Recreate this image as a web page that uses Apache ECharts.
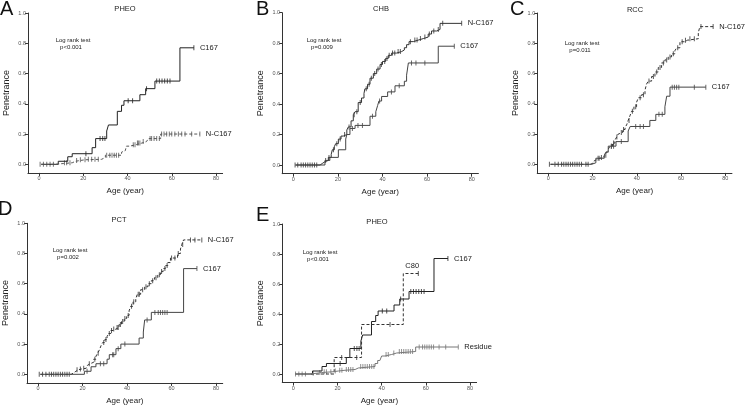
<!DOCTYPE html>
<html><head><meta charset="utf-8">
<script src="https://cdn.jsdelivr.net/npm/echarts@6/dist/echarts.min.js"></script>
<style>html,body{margin:0;padding:0;background:#fff}#c{width:745px;height:407px}</style>
</head><body><div id="c"></div><script>
// ---------- data ----------
const xTicks = [0, 20, 40, 60, 80];
const yTicks = [0, 0.2, 0.4, 0.6, 0.8, 1.0];
const panelLetters = ['A', 'B', 'C', 'D', 'E'];
const panelTitles = ['PHEO', 'CHB', 'RCC', 'PCT', 'PHEO'];
const testName = 'Log rank test';
const pValues = ['p<0.001', 'p=0.009', 'p=0.011', 'p=0.002', 'p<0.001'];

// Panel A / E : C167 (PHEO)
const A_C167_age  = [1, 8.7, 13, 15, 24, 25.6, 30.6, 31.4, 35.4, 37.3, 38.4, 45.6, 48.2, 52.4, 63.7, 70];
const A_C167_pen  = [0, 0.02, 0.05, 0.07, 0.11, 0.17, 0.22, 0.26, 0.35, 0.39, 0.42, 0.46, 0.50, 0.55, 0.77, 0.77];
const A_C167_cens = [21.2, 27.6, 28.8, 29.8, 40.3, 42.3, 48.6, 53.2, 54.4, 55.6, 56.8, 58, 59.2, 70];
// Panel A : N-C167
const A_N_age  = [1, 7, 11, 15, 16.5, 18.5, 21, 28.3, 30, 37.3, 38.2, 39, 39.5, 41, 44, 46.4, 48.6, 49.4, 55, 72.7];
const A_N_pen  = [0, 0.005, 0.01, 0.02, 0.025, 0.03, 0.033, 0.045, 0.06, 0.08, 0.09, 0.1, 0.12, 0.13, 0.14, 0.15, 0.16, 0.17, 0.20, 0.20];
const A_N_cens = [0.5, 2, 3.5, 5, 6.5, 11.5, 12.5, 14, 17, 18.7, 20.8, 22.3, 23.8, 25.3, 26.8, 30.6, 32, 33, 34, 35, 36, 42.6, 43.4, 44.5, 44.9, 45.6, 47.1, 50.2, 50.9, 52, 53.2, 54.4, 55.4, 56.5, 57.7, 58.9, 60, 61.4, 63, 64.5, 66, 69, 72.7];

// Panel B : CHB
const B_N_age  = [1, 12, 13, 14, 15.7, 17, 17.5, 18.4, 19, 20.2, 21.4, 22.4, 24, 24.7, 25.9, 26.9, 27.7, 29.1, 30.6, 31.7, 32.1, 33.3, 34.4, 35.9, 37.4, 38.9, 40, 41.4, 42.6, 44.1, 46.3, 48.6, 49.8, 50.8, 51.9, 53.8, 56, 58.3, 60.5, 62, 64.3, 65.8, 75.5];
const B_N_pen  = [0, 0.01, 0.02, 0.03, 0.05, 0.07, 0.10, 0.12, 0.14, 0.17, 0.19, 0.20, 0.23, 0.25, 0.29, 0.33, 0.35, 0.41, 0.44, 0.47, 0.50, 0.53, 0.57, 0.60, 0.63, 0.66, 0.68, 0.70, 0.72, 0.735, 0.745, 0.755, 0.77, 0.79, 0.81, 0.82, 0.83, 0.84, 0.86, 0.88, 0.89, 0.93, 0.93];
const B_N_cens = [0.8, 2, 3.5, 4.5, 5.5, 6.5, 7.5, 8.5, 9.5, 10.5, 14.5, 16, 18, 19.5, 21, 23, 25, 27.3, 28.5, 30, 32.7, 34, 35, 36.5, 38, 39.5, 41, 42, 43, 44.5, 45.5, 47, 48, 52.5, 54.5, 55.5, 57, 59, 61, 63, 65, 67, 75.5];
const B_C167_age  = [1, 14.2, 16.4, 20.2, 23.5, 24, 25.4, 27.7, 34.4, 37, 37.8, 38.4, 39.6, 42.3, 45.6, 49.8, 50.8, 51.6, 65, 72.2];
const B_C167_pen  = [0, 0.03, 0.05, 0.10, 0.17, 0.20, 0.24, 0.26, 0.32, 0.35, 0.39, 0.42, 0.45, 0.48, 0.52, 0.55, 0.59, 0.67, 0.78, 0.78];
const B_C167_cens = [26.5, 29, 31, 35.5, 38.7, 44, 47.5, 53, 55, 59, 72.2];

// Panel C : RCC
const C_N_age  = [1, 18.8, 20, 20.4, 21, 21.8, 23.3, 24.8, 25.6, 26.4, 27.1, 27.9, 29, 30.1, 30.9, 31.6, 32.4, 33.6, 34.7, 35.4, 36.1, 36.9, 37.6, 38.7, 39.9, 40.7, 42.2, 43.7, 44.4, 45.2, 46.7, 48.2, 49.7, 51.2, 52.7, 54.2, 55.7, 57.2, 58, 59.5, 61.7, 62.8, 67.8, 68.5, 74.5];
const C_N_pen  = [0, 0.005, 0.01, 0.02, 0.03, 0.04, 0.045, 0.05, 0.06, 0.08, 0.10, 0.12, 0.14, 0.16, 0.18, 0.20, 0.21, 0.23, 0.245, 0.26, 0.29, 0.32, 0.35, 0.38, 0.41, 0.44, 0.46, 0.49, 0.53, 0.55, 0.58, 0.61, 0.64, 0.67, 0.69, 0.71, 0.73, 0.75, 0.77, 0.81, 0.82, 0.83, 0.87, 0.91, 0.91];
const C_N_cens = [0.5, 3, 4.5, 6, 7, 8, 9, 10, 11, 12, 13, 14, 15, 17, 18, 22.5, 24, 26, 28.5, 29.5, 31, 33, 34, 36.5, 38, 39.5, 41.5, 43, 45.5, 47.5, 49, 50.5, 52, 53.5, 55, 56.5, 58.5, 60.5, 62, 64, 66, 69, 74.5];
const C_C167_age  = [1, 19.6, 21.5, 25.3, 26, 27.1, 30.6, 36.1, 37, 45.9, 48.6, 52.7, 53.5, 55, 71.2];
const C_C167_pen  = [0, 0.01, 0.04, 0.06, 0.08, 0.12, 0.15, 0.22, 0.25, 0.29, 0.33, 0.38, 0.45, 0.51, 0.51];
const C_C167_cens = [23, 28.5, 29.5, 33, 39.5, 41.5, 43, 50, 51.5, 56, 57, 58, 59, 66, 71.2];

// Panel D : PCT
const D_N_age  = [1, 14.9, 16, 17, 18, 19.5, 21.6, 22.2, 22.7, 23.4, 24, 25, 26, 26.8, 27.5, 28.3, 29, 30, 31, 31.5, 32.7, 33.8, 35, 36.4, 37.5, 38.7, 39.8, 40.9, 41.6, 42.7, 43.9, 44.6, 46.1, 47.9, 49.4, 50.9, 52.3, 53.8, 55, 56.2, 57.2, 58.3, 59.5, 62.7, 64, 64.6, 65.4, 73.6];
const D_N_pen  = [0, 0.01, 0.02, 0.03, 0.035, 0.04, 0.05, 0.06, 0.07, 0.075, 0.08, 0.10, 0.12, 0.14, 0.16, 0.19, 0.21, 0.23, 0.25, 0.27, 0.29, 0.30, 0.31, 0.33, 0.35, 0.37, 0.39, 0.42, 0.45, 0.48, 0.50, 0.53, 0.56, 0.58, 0.60, 0.62, 0.64, 0.66, 0.68, 0.70, 0.72, 0.74, 0.77, 0.80, 0.83, 0.86, 0.89, 0.89];
const D_N_cens = [0.5, 2, 3.5, 5, 6, 7, 8, 9, 10, 11, 12, 13, 14, 17.5, 19, 20.5, 23, 25.5, 27, 29.5, 30.5, 32, 33, 34, 35.5, 36, 37, 38, 39, 40.5, 42, 43, 45, 45.5, 47, 48.5, 50, 51.5, 53, 54.5, 55.5, 57, 58, 60, 61.5, 63, 65, 68.5, 70.5, 73.6];
const D_C167_age  = [1, 20.8, 23.8, 26, 31, 32, 35, 37.2, 45.4, 47.3, 47.9, 50.9, 65.4, 71.4];
const D_C167_pen  = [0, 0.02, 0.05, 0.07, 0.10, 0.13, 0.17, 0.20, 0.24, 0.28, 0.36, 0.41, 0.70, 0.70];
const D_C167_cens = [22, 28, 29.5, 33.5, 34, 36, 39, 49, 52.5, 54, 55, 56, 57, 58, 71.4];

// Panel E : PHEO by genotype
const E_C80_age  = [8, 18.5, 30.9, 49.8, 56.6];
const E_C80_pen  = [0, 0.11, 0.33, 0.67, 0.67];
const E_C80_cens = [21.9, 28.7, 43.8, 56.6];
const E_R_age  = [1, 7.5, 10.5, 12.8, 18, 20.4, 23.4, 28, 29.4, 37, 38.2, 39.2, 40, 41.5, 44.5, 46.8, 55.4, 74.7];
const E_R_pen  = [0, 0.005, 0.01, 0.015, 0.02, 0.025, 0.03, 0.04, 0.05, 0.07, 0.09, 0.10, 0.12, 0.13, 0.14, 0.15, 0.18, 0.18];
const E_R_cens = [1, 2.5, 4, 5.5, 9, 12, 14, 15, 17, 19, 21, 22, 24, 25, 26, 27, 30.5, 31.5, 32.5, 33.5, 34.5, 35.5, 36.5, 42, 43, 45.5, 48, 49, 50, 51, 52, 53, 54, 57, 58.5, 59.5, 60.5, 61.5, 62.5, 63.5, 66, 69, 74.7];

// ---------- layout (pixel anchors of age 0 / 80 and penetrance 0 / 1) ----------
const layout = [
  {x0: 39,    x80: 216,   y0: 164.3, y1: 13,    lx: 0,   ly: 9,   tx: 125, ty: 9,   kx: 73,  ky: 40},
  {x0: 293.3, x80: 471.7, y0: 165,   y1: 12.7,  lx: 256, ly: 9,   tx: 381, ty: 9,   kx: 324, ky: 40},
  {x0: 548.3, x80: 725.3, y0: 164.3, y1: 13,    lx: 510, ly: 9,   tx: 635, ty: 10,  kx: 582, ky: 43},
  {x0: 36.7,  x80: 216,   y0: 374.3, y1: 223.3, lx: -2,  ly: 209, tx: 119, ty: 220, kx: 70,  ky: 250},
  {x0: 293.3, x80: 470,   y0: 374,   y1: 224,   lx: 256, ly: 215, tx: 377, ty: 222, kx: 320, ky: 252}
];
const XMIN = -5, XMAX = 83, YMIN = -0.057, YMAX = 1;

const curves = [
  {p: 0, name: 'C167',   age: A_C167_age, pen: A_C167_pen, cens: A_C167_cens, color: '#222', dash: false},
  {p: 0, name: 'N-C167', age: A_N_age,    pen: A_N_pen,    cens: A_N_cens,    color: '#555', dash: true},
  {p: 1, name: 'N-C167', age: B_N_age,    pen: B_N_pen,    cens: B_N_cens,    color: '#333', dash: false},
  {p: 1, name: 'C167',   age: B_C167_age, pen: B_C167_pen, cens: B_C167_cens, color: '#444', dash: false},
  {p: 2, name: 'N-C167', age: C_N_age,    pen: C_N_pen,    cens: C_N_cens,    color: '#333', dash: true},
  {p: 2, name: 'C167',   age: C_C167_age, pen: C_C167_pen, cens: C_C167_cens, color: '#444', dash: false},
  {p: 3, name: 'N-C167', age: D_N_age,    pen: D_N_pen,    cens: D_N_cens,    color: '#333', dash: true},
  {p: 3, name: 'C167',   age: D_C167_age, pen: D_C167_pen, cens: D_C167_cens, color: '#444', dash: false},
  {p: 4, name: 'C167',   age: A_C167_age, pen: A_C167_pen, cens: A_C167_cens, color: '#222', dash: false},
  {p: 4, name: 'C80',    age: E_C80_age,  pen: E_C80_pen,  cens: E_C80_cens,  color: '#333', dash: true, lblOffset: [-19, -8]},
  {p: 4, name: 'Residue',age: E_R_age,    pen: E_R_pen,    cens: E_R_cens,    color: '#777', dash: false}
];

function valAt(ages, pens, t) {
  let v = pens[0];
  for (let i = 0; i < ages.length; i++) if (ages[i] <= t) v = pens[i];
  return v;
}

const FONT = '"Liberation Sans", Arial, sans-serif';
const grid = [], xAxis = [], yAxis = [], series = [], graphic = [];

layout.forEach((L, i) => {
  const sx = (L.x80 - L.x0) / 80;
  const sy = (L.y0 - L.y1);
  grid.push({left: L.x0 + XMIN * sx, width: (XMAX - XMIN) * sx, top: L.y1, height: (YMAX - YMIN) * sy, containLabel: false});
  xAxis.push({
    type: 'value', gridIndex: i, min: XMIN, max: XMAX,
    name: 'Age (year)', nameLocation: 'middle', nameGap: 14,
    nameTextStyle: {fontFamily: FONT, fontSize: 8, color: '#222'},
    axisLine: {show: true, onZero: false, lineStyle: {color: '#333', width: 1}},
    axisTick: {show: true, length: 3, customValues: xTicks, lineStyle: {color: '#333'}},
    axisLabel: {show: true, customValues: xTicks, fontSize: 5.5, color: '#555', margin: 3, fontFamily: FONT},
    splitLine: {show: false}
  });
  yAxis.push({
    type: 'value', gridIndex: i, min: YMIN, max: YMAX,
    name: 'Penetrance', nameLocation: 'middle', nameGap: 17, nameRotate: 90,
    nameTextStyle: {fontFamily: FONT, fontSize: 9, color: '#222'},
    axisLine: {show: true, onZero: false, lineStyle: {color: '#333', width: 1}},
    axisTick: {show: true, length: 3, customValues: yTicks, lineStyle: {color: '#333'}},
    axisLabel: {show: true, customValues: yTicks, fontSize: 5.5, color: '#555', margin: 2, fontFamily: FONT,
      formatter: v => v.toFixed(1)},
    splitLine: {show: false}
  });
  graphic.push({type: 'text', left: L.lx, top: L.ly - 10, style: {text: panelLetters[i], font: '20px ' + FONT, fill: '#111'}});
  graphic.push({type: 'text', x: L.tx, y: L.ty, style: {text: panelTitles[i], font: '7.5px ' + FONT, fill: '#222', align: 'center', verticalAlign: 'middle'}});
  graphic.push({type: 'text', x: L.kx, y: L.ky, style: {text: testName, font: '6px ' + FONT, fill: '#222', align: 'center', verticalAlign: 'middle'}});
  graphic.push({type: 'text', x: L.kx - 2, y: L.ky + 7, style: {text: pValues[i], font: '6px ' + FONT, fill: '#222', align: 'center', verticalAlign: 'middle'}});
});

curves.forEach(c => {
  series.push({
    type: 'line', xAxisIndex: c.p, yAxisIndex: c.p, step: 'end', showSymbol: false, animation: false,
    data: c.age.map((a, k) => [a, c.pen[k]]),
    lineStyle: {color: c.color, width: 1, type: c.dash ? [3, 2] : 'solid'},
    endLabel: {show: true, formatter: c.name, fontSize: 7.5, color: '#222', fontFamily: FONT, distance: 6,
      offset: c.lblOffset || [0, 0]},
    emphasis: {disabled: true}, silent: true
  });
  series.push({
    type: 'scatter', xAxisIndex: c.p, yAxisIndex: c.p, animation: false, silent: true,
    symbol: 'rect', symbolSize: [1, 5],
    itemStyle: {color: c.color},
    data: c.cens.map(t => [t, valAt(c.age, c.pen, t)])
  });
});

const chart = echarts.init(document.getElementById('c'), null, {renderer: 'canvas'});
chart.setOption({animation: false, grid, xAxis, yAxis, series, graphic});
</script></body></html>
